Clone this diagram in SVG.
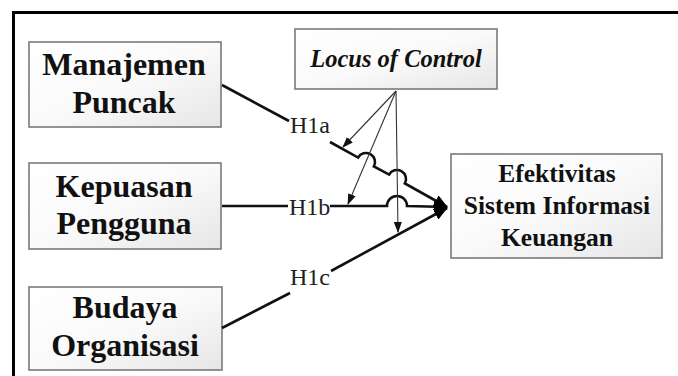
<svg xmlns="http://www.w3.org/2000/svg" width="678" height="376" viewBox="0 0 678 376">
<defs>
<linearGradient id="g" x1="0" y1="0" x2="1" y2="1">
<stop offset="0" stop-color="#ffffff"/>
<stop offset="0.5" stop-color="#fafafa"/>
<stop offset="1" stop-color="#e6e6e6"/>
</linearGradient>
<marker id="big" markerUnits="userSpaceOnUse" markerWidth="14" markerHeight="12" refX="13" refY="6" orient="auto">
<path d="M0,0 L14,6 L0,12 Z" fill="#000"/>
</marker>
<marker id="small" markerUnits="userSpaceOnUse" markerWidth="11" markerHeight="8" refX="10" refY="4" orient="auto">
<path d="M0,0 L11,4 L0,8 Z" fill="#111"/>
</marker>
<style>
.box{fill:url(#g);stroke:#7a7a7a;stroke-width:1.6}
.t{font-weight:bold;fill:#111;text-anchor:middle}
.lbl{font-size:24px;fill:#222}
.thick{fill:none;stroke:#111;stroke-width:2.6}
.thin{fill:none;stroke:#333;stroke-width:1.1}
</style>
</defs>
<rect width="678" height="376" fill="#fff"/>
<path d="M13.5,376 L13.5,12.5 L678,12.5" fill="none" stroke="#000" stroke-width="3"/>

<g font-family="'Liberation Serif', Tinos, 'Times New Roman', 'DejaVu Serif', serif">
<g id="node-manajemen">
<rect class="box" x="29" y="42" width="192" height="85"/>
<text class="t" x="124" y="75" font-size="32">Manajemen</text>
<text class="t" x="124" y="113" font-size="32">Puncak</text>
</g>
<g id="node-kepuasan">
<rect class="box" x="29" y="163" width="192" height="86"/>
<text class="t" x="124" y="197" font-size="32">Kepuasan</text>
<text class="t" x="124" y="234" font-size="32">Pengguna</text>
</g>
<g id="node-budaya">
<rect class="box" x="29" y="287" width="193" height="83"/>
<text class="t" x="125" y="318" font-size="32">Budaya</text>
<text class="t" x="125" y="356" font-size="32">Organisasi</text>
</g>
<g id="node-loc">
<rect class="box" x="295" y="29" width="202" height="60"/>
<text class="t" x="396" y="67" font-size="24.5" font-style="italic">Locus of Control</text>
</g>
<g id="node-efektivitas">
<rect class="box" x="451" y="154" width="211" height="104"/>
<text class="t" x="557" y="182" font-size="25.5">Efektivitas</text>
<text class="t" x="557" y="214" font-size="25.5">Sistem Informasi</text>
<text class="t" x="557" y="246" font-size="25.5">Keuangan</text>
</g>

<g id="connectors">
<path class="thick" d="M222,85 L289,121"/>
<path class="thick" marker-end="url(#big)" d="M330,142 L358.1,157.6 A9,9 0 0 1 373.9,166.4 L389.1,174.6 A9,9 0 0 1 404.9,183.4 L447,207"/>
<path class="thick" d="M222,206 L288,206"/>
<path class="thick" marker-end="url(#big)" d="M330,206 L387,206 A10,10 0 0 1 407,206 L447,207"/>
<path class="thick" d="M222,328 L290,293"/>
<path class="thick" marker-end="url(#big)" d="M331,271 L447,208"/>
<path class="thin" marker-end="url(#small)" d="M396,91 L343,147"/>
<path class="thin" marker-end="url(#small)" d="M396,91 L348,204"/>
<path class="thin" marker-end="url(#small)" d="M396,91 L398,232"/>
<text class="lbl" x="290" y="133">H1a</text>
<text class="lbl" x="289" y="215">H1b</text>
<text class="lbl" x="290" y="285">H1c</text>
</g>
</g>
</svg>
